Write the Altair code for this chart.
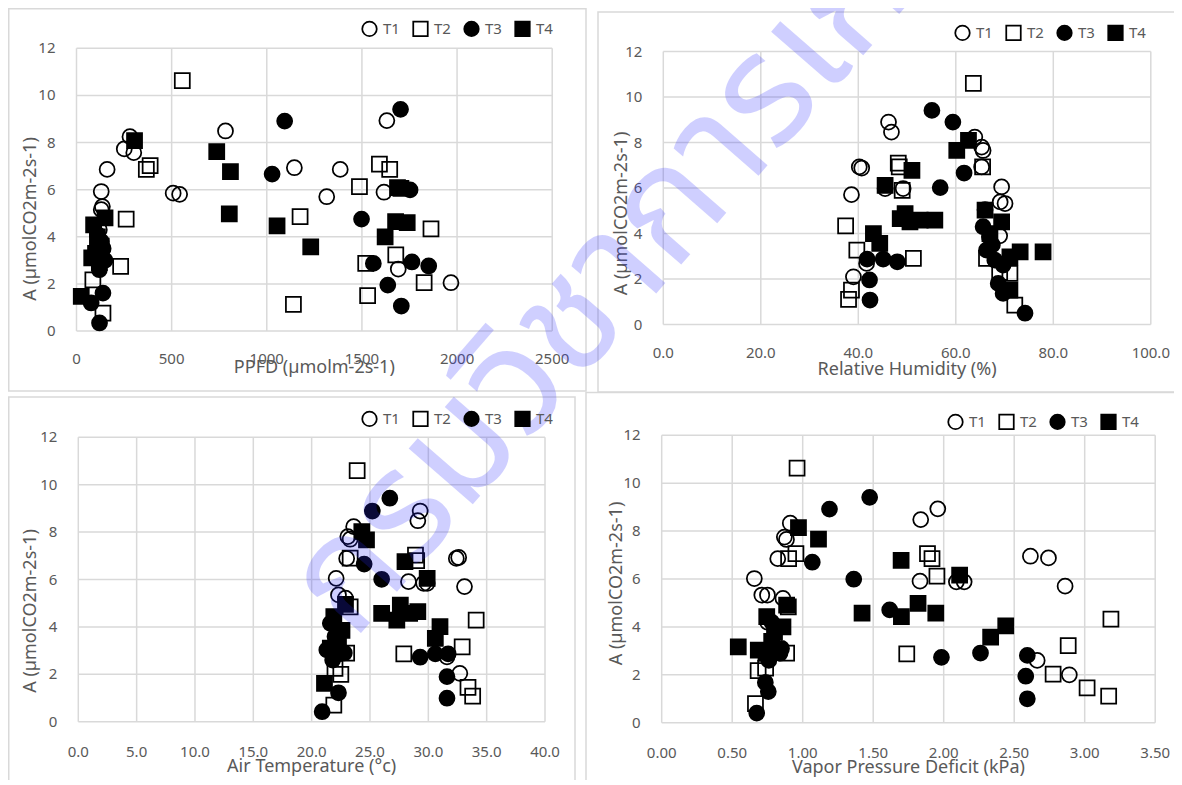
import altair as alt
import pandas as pd

SERIES = ["T1", "T2", "T3", "T4"]
Y_TICKS = [0, 2, 4, 6, 8, 10, 12]
Y_TITLE = "A (µmolCO2m-2s-1)"
WATERMARK = "กรมวิชาการเกษตร"

# ---------- Panel 1: PPFD ----------
PPFD_TICKS = [0, 500, 1000, 1500, 2000, 2500]
PPFD_T1 = [281, 251, 301, 161, 130, 136, 130, 508, 542, 783, 1145, 1386, 1315, 1631, 1616, 1691, 1968, 120, 140]
A_PPFD_T1 = [8.25, 7.73, 7.57, 6.86, 5.92, 5.28, 5.15, 5.85, 5.80, 8.49, 6.93, 6.86, 5.70, 8.93, 5.89, 2.63, 2.05, 4.3, 3.0]
PPFD_T2 = [556, 367, 387, 261, 232, 86, 139, 1175, 1140, 1487, 1592, 1646, 1520, 1530, 1678, 1827, 1863]
A_PPFD_T2 = [10.63, 6.86, 7.02, 4.75, 2.74, 2.17, 0.76, 4.85, 1.13, 6.13, 7.08, 6.86, 2.87, 1.50, 3.23, 2.05, 4.33]
PPFD_T3 = [1094, 1703, 1028, 1753, 1498, 1560, 1763, 1851, 1636, 1707, 121, 77, 139, 110, 130, 150, 120, 140, 100]
A_PPFD_T3 = [8.91, 9.41, 6.66, 5.99, 4.75, 2.87, 2.93, 2.76, 1.95, 1.06, 0.34, 1.19, 1.61, 4.1, 3.8, 3.0, 2.6, 3.5, 3.2]
PPFD_T4 = [305, 737, 809, 803, 1054, 1231, 1687, 1705, 1677, 1738, 1622, 25, 90, 110, 130, 100, 150, 80, 120]
A_PPFD_T4 = [8.08, 7.61, 6.76, 4.97, 4.46, 3.57, 6.09, 6.05, 4.64, 4.60, 4.00, 1.47, 4.5, 4.0, 3.6, 3.3, 4.8, 3.1, 2.9]

# ---------- Panel 2: Relative humidity ----------
RH_TICKS = [0, 20, 40, 60, 80, 100]
RH_T1 = [46.2, 46.8, 40.2, 40.7, 38.6, 45.5, 49.2, 63.9, 65.3, 65.6, 65.3, 69.4, 69.1, 70.1, 39.0, 41.7, 66.0, 69.0]
A_RH_T1 = [8.90, 8.46, 6.93, 6.88, 5.71, 5.98, 5.98, 8.24, 7.80, 7.65, 6.93, 6.05, 5.39, 5.32, 2.10, 2.69, 5.05, 3.90]
RH_T2 = [63.6, 48.4, 48.2, 65.5, 37.4, 39.7, 51.3, 66.3, 71.1, 38.6, 38.0, 72.1, 49.0, 69.0]
A_RH_T2 = [10.60, 6.93, 7.10, 6.93, 4.34, 3.27, 2.91, 2.91, 2.25, 1.52, 1.11, 0.86, 5.90, 2.30]
RH_T3 = [55.1, 59.4, 61.7, 56.8, 41.8, 45.1, 48.0, 42.3, 42.4, 74.2, 65.6, 66.9, 66.3, 68.0, 69.7, 68.7, 69.7, 67.5]
A_RH_T3 = [9.41, 8.90, 6.66, 6.02, 2.88, 2.88, 2.76, 1.96, 1.08, 0.50, 4.30, 3.86, 3.27, 2.83, 2.61, 1.81, 1.37, 3.50]
RH_T4 = [62.6, 60.2, 51.0, 45.5, 49.6, 48.6, 52.7, 55.7, 50.6, 43.1, 44.4, 66.0, 69.4, 73.2, 77.9, 71.1, 71.1, 67.0]
A_RH_T4 = [8.10, 7.66, 6.78, 6.12, 4.88, 4.66, 4.59, 4.59, 4.51, 4.00, 3.57, 5.03, 4.51, 3.20, 3.20, 2.98, 1.52, 4.00]

# ---------- Panel 3: Air temperature ----------
TA_TICKS = [0, 5, 10, 15, 20, 25, 30, 35, 40]
TA_T1 = [29.3, 29.1, 23.6, 23.1, 23.3, 23.0, 32.4, 32.6, 22.1, 28.3, 29.6, 29.9, 33.1, 22.3, 22.9, 31.6, 32.7]
A_TA_T1 = [8.89, 8.48, 8.23, 7.81, 7.70, 6.89, 6.89, 6.93, 6.05, 5.91, 5.84, 5.84, 5.70, 5.35, 5.21, 2.74, 2.04]
TA_T2 = [23.9, 28.9, 29.0, 23.3, 23.3, 34.1, 27.9, 32.9, 23.0, 22.0, 33.4, 33.8, 21.9, 22.5]
A_TA_T2 = [10.59, 7.03, 6.80, 6.90, 4.85, 4.29, 2.86, 3.16, 2.89, 2.25, 1.45, 1.08, 0.70, 2.00]
TA_T3 = [26.7, 25.2, 24.5, 26.0, 29.3, 30.6, 31.7, 31.6, 31.6, 20.9, 22.3, 21.6, 21.3, 22.2, 22.8, 21.8, 22.0]
A_TA_T3 = [9.43, 8.89, 6.65, 6.01, 2.72, 2.86, 2.86, 1.90, 0.99, 0.42, 1.22, 4.15, 3.03, 3.30, 2.90, 2.60, 3.60]
TA_T4 = [24.3, 24.7, 28.0, 29.9, 26.0, 27.6, 28.4, 29.1, 27.3, 31.0, 30.6, 21.9, 22.6, 21.1, 22.3, 21.6, 22.9]
A_TA_T4 = [8.02, 7.67, 6.75, 6.05, 4.57, 4.92, 4.57, 4.64, 4.29, 4.01, 3.52, 4.43, 3.85, 1.62, 3.30, 3.10, 4.95]

# ---------- Panel 4: Vapor pressure deficit ----------
VPD_TICKS = [0, 0.5, 1.0, 1.5, 2.0, 2.5, 3.0, 3.5]
VPD_T1 = [0.912, 0.870, 0.885, 0.823, 0.657, 0.710, 0.750, 0.860, 1.837, 1.958, 1.832, 2.090, 2.145, 2.615, 2.743, 2.861, 2.663, 2.891, 0.750]
A_VPD_T1 = [8.33, 7.75, 7.65, 6.85, 6.02, 5.33, 5.33, 5.19, 8.48, 8.93, 5.91, 5.88, 5.88, 6.95, 6.88, 5.70, 2.60, 2.00, 4.20]
VPD_T2 = [0.960, 0.900, 0.952, 1.885, 1.917, 1.952, 1.738, 3.186, 2.883, 2.776, 3.017, 3.170, 0.898, 0.886, 0.684, 0.737, 0.665]
A_VPD_T2 = [10.63, 6.85, 7.06, 7.06, 6.85, 6.12, 2.87, 4.32, 3.22, 2.03, 1.45, 1.11, 4.84, 2.90, 2.17, 2.28, 0.80]
VPD_T3 = [1.475, 1.190, 1.068, 1.362, 1.617, 1.984, 2.261, 2.593, 2.582, 2.593, 0.674, 0.756, 0.735, 0.780, 0.745, 0.839, 0.760, 0.850]
A_VPD_T3 = [9.41, 8.92, 6.70, 5.99, 4.71, 2.73, 2.91, 2.81, 1.94, 1.00, 0.40, 1.30, 1.68, 4.20, 3.00, 2.90, 2.60, 3.10]
VPD_T4 = [0.970, 1.112, 1.698, 2.113, 1.421, 1.700, 1.818, 1.944, 2.440, 2.333, 0.543, 0.685, 0.745, 0.860, 0.800, 0.780, 0.886, 0.740]
A_VPD_T4 = [8.15, 7.66, 6.78, 6.16, 4.57, 4.43, 4.98, 4.57, 4.04, 3.57, 3.17, 3.03, 4.43, 4.00, 3.80, 3.40, 4.91, 2.90]

# ---------- styling / layout ----------
W, H = 1166, 772
GRID = "#d9d9d9"
TXT = "#595959"
FONT = "Noto Sans"
CIRCLE = "M -1 0 A 1 1 0 1 0 1 0 A 1 1 0 1 0 -1 0 Z"

shape_scale = alt.Scale(domain=SERIES, range=[CIRCLE, "square", CIRCLE, "square"])
fill_scale = alt.Scale(domain=SERIES, range=["transparent", "transparent", "black", "black"])
stroke_scale = alt.Scale(domain=SERIES, range=["black", "black", "black", "black"])

LAYOUT = [
    dict(left=68.5, right=544.2, top=40.3, bottom=323.0, xl=28, xty=360, ytx=23, yty=211,
         lx=353, ly=12, box=(0.75, 578, 0.75, 383)),
    dict(left=655.3, right=1142.8, top=43.5, bottom=316.6, xl=28, xty=362, ytx=614, yty=205.5,
         lx=946, ly=16, box=(590, 1180, 4, 384)),
    dict(left=70.3, right=537.0, top=429.3, bottom=713.7, xl=30, xty=759, ytx=23, yty=603,
         lx=353, ly=402, box=(0.75, 567, 389, 778)),
    dict(left=653.7, right=1147.2, top=427.3, bottom=714.7, xl=30, xty=760, ytx=609, yty=575.5,
         lx=939, ly=405, box=(578, 1180, 384.5, 778)),
]


def frame(xs_list, as_list):
    rows = []
    for s, xs, ys in zip(SERIES, xs_list, as_list):
        for xv, av in zip(xs, ys):
            rows.append({"x": xv, "A": av, "series": s})
    return pd.DataFrame(rows)


def text_chart(value, **kw):
    return alt.Chart(pd.DataFrame({"t": [value]})).mark_text(
        font=FONT, color=TXT, baseline="middle", align="center", **kw
    )


def panel(df, dom, ticks, fmt, xtitle, L):
    xs = alt.Scale(domain=dom, range=[L["left"], L["right"]], nice=False, zero=False)
    ys = alt.Scale(domain=[0, 12], range=[L["bottom"], L["top"]], nice=False, zero=False)
    leg = alt.Legend(
        orient="none", legendX=L["lx"], legendY=L["ly"], direction="horizontal",
        title=None, padding=0, labelFont=FONT, labelFontSize=15, labelColor=TXT,
        symbolSize=210, symbolStrokeColor="black", symbolStrokeWidth=1.75,
        labelOffset=5, columnPadding=9,
    )
    border = alt.Chart(pd.DataFrame({"b": [0]})).mark_rect(
        fill="transparent", stroke=GRID, strokeWidth=1.5
    ).encode(
        x=alt.value(L["box"][0]), x2=alt.value(L["box"][1]),
        y=alt.value(L["box"][2]), y2=alt.value(L["box"][3]),
    )
    vgrid = alt.Chart(pd.DataFrame({"v": ticks})).mark_rule(color=GRID, strokeWidth=1.5).encode(
        x=alt.X("v:Q", scale=xs, axis=None),
        y=alt.value(L["top"]), y2=alt.value(L["bottom"]),
    )
    hgrid = alt.Chart(pd.DataFrame({"v": Y_TICKS})).mark_rule(color=GRID, strokeWidth=1.5).encode(
        y=alt.Y("v:Q", scale=ys, axis=None),
        x=alt.value(L["left"]), x2=alt.value(L["right"]),
    )
    xlab = alt.Chart(pd.DataFrame({"v": ticks, "lab": [format(t, fmt) for t in ticks]})).mark_text(
        font=FONT, fontSize=15, color=TXT, baseline="middle", align="center"
    ).encode(x=alt.X("v:Q", scale=xs, axis=None), y=alt.value(L["bottom"] + L["xl"]), text="lab:N")
    ylab = alt.Chart(pd.DataFrame({"v": Y_TICKS, "lab": [str(t) for t in Y_TICKS]})).mark_text(
        font=FONT, fontSize=15, color=TXT, baseline="middle", align="right"
    ).encode(y=alt.Y("v:Q", scale=ys, axis=None), x=alt.value(L["left"] - 21), text="lab:N")
    xt = text_chart(xtitle, fontSize=18).encode(
        x=alt.value((L["left"] + L["right"]) / 2), y=alt.value(L["xty"]), text="t:N")
    yt = text_chart(Y_TITLE, fontSize=18, angle=270).encode(
        x=alt.value(L["ytx"]), y=alt.value(L["yty"]), text="t:N")
    pts = alt.Chart(df).mark_point(
        filled=True, size=225, strokeWidth=1.75, opacity=1
    ).encode(
        x=alt.X("x:Q", scale=xs, axis=None),
        y=alt.Y("A:Q", scale=ys, axis=None),
        shape=alt.Shape("series:N", scale=shape_scale, legend=leg),
        fill=alt.Fill("series:N", scale=fill_scale, legend=leg),
        stroke=alt.Stroke("series:N", scale=stroke_scale, legend=leg),
        order=alt.Order("k:Q"),
    ).transform_window(k="row_number()")
    return alt.layer(border, vgrid, hgrid, xlab, ylab, xt, yt, pts)


p1 = panel(frame([PPFD_T1, PPFD_T2, PPFD_T3, PPFD_T4], [A_PPFD_T1, A_PPFD_T2, A_PPFD_T3, A_PPFD_T4]),
           [0, 2500], PPFD_TICKS, "d", "PPFD (µmolm-2s-1)", LAYOUT[0])
p2 = panel(frame([RH_T1, RH_T2, RH_T3, RH_T4], [A_RH_T1, A_RH_T2, A_RH_T3, A_RH_T4]),
           [0, 100], RH_TICKS, ".1f", "Relative Humidity (%)", LAYOUT[1])
p3 = panel(frame([TA_T1, TA_T2, TA_T3, TA_T4], [A_TA_T1, A_TA_T2, A_TA_T3, A_TA_T4]),
           [0, 40], TA_TICKS, ".1f", "Air Temperature  (°c)", LAYOUT[2])
p4 = panel(frame([VPD_T1, VPD_T2, VPD_T3, VPD_T4], [A_VPD_T1, A_VPD_T2, A_VPD_T3, A_VPD_T4]),
           [0, 3.5], VPD_TICKS, ".2f", "Vapor Pressure Deficit  (kPa)", LAYOUT[3])

mark = alt.Chart(pd.DataFrame({"t": [WATERMARK]})).mark_text(
    angle=311, fontSize=155, color="#2b2bff", opacity=0.22,
    align="center", baseline="middle",
    font="Noto Sans Thai, Noto Looped Thai, Loma, Garuda, Norasi, Tlwg Typo, sans-serif",
).encode(x=alt.value(681), y=alt.value(176), text="t:N")

chart = alt.layer(p1, p2, p3, p4, mark).resolve_scale(
    x="independent", y="independent", shape="independent", fill="independent",
    stroke="independent",
).resolve_legend(
    shape="independent", fill="independent", stroke="independent"
).properties(
    width=W, height=H, autosize=alt.AutoSizeParams(type="none"), padding=0
).configure_view(stroke=None)

chart.save("out.html", embed_options={"renderer": "svg", "actions": False})
